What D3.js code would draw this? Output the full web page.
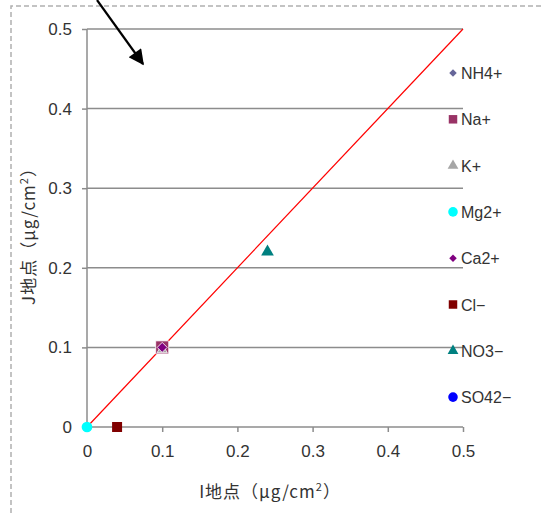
<!DOCTYPE html>
<html><head><meta charset="utf-8">
<script src="https://cdn.jsdelivr.net/npm/d3@7"></script>
<style>
html,body{margin:0;padding:0;background:#fff;}
text{font-family:"Liberation Sans","Noto Sans CJK JP",sans-serif;fill:#333;}
.ttl{font-family:"Noto Sans CJK JP",sans-serif;letter-spacing:1px;}
</style></head>
<body><svg id="c" width="541" height="513"></svg>
<script>
// Data
const seriesNames = ["NH4+","Na+","K+","Mg2+","Ca2+","Cl−","NO3−","SO42−"];
const xValues = [[0.1],[0.1],[0.1],[0],[0.1],[0.04],[0.24],[]];
const yValues = [[0.1],[0.1],[0.097],[0],[0.1],[0],[0.22],[]];
const xTicks = [0,0.1,0.2,0.3,0.4,0.5];
const yTicks = [0,0.1,0.2,0.3,0.4,0.5];
const colors = ["#666699","#993366","#a6a6a6","#00ffff","#800080","#800000","#008080","#0000ff"];
const shapes = ["diamond","square","triangle","circle","diamond","square","triangle","circle"];

const svg = d3.select("#c");
const x = d3.scaleLinear().domain([0,0.5]).range([87,463]);
const y = d3.scaleLinear().domain([0,0.5]).range([427,29]);

// dashed border
svg.append("path").attr("d","M11,513 L11,6 L541,6")
  .attr("fill","none").attr("stroke","#b0b0b0").attr("stroke-width",1.5).attr("stroke-dasharray","5,3");

// gridlines
svg.append("g").selectAll("line").data(yTicks.filter(d=>d>0)).join("line")
  .attr("x1",x(0)).attr("x2",x(0.5)).attr("y1",d=>y(d)).attr("y2",d=>y(d))
  .attr("stroke","#8c8c8c").attr("stroke-width",1.5);

// axes
const yAxis = d3.axisLeft(y).tickValues(yTicks).tickFormat(d=>d===0?"0":d3.format(".1f")(d)).tickSize(5).tickPadding(10);
const gy = svg.append("g").attr("transform",`translate(${x(0)},0)`).call(yAxis);
const xAxis = d3.axisBottom(x).tickValues(xTicks).tickFormat(d=>d===0?"0":d3.format(".1f")(d)).tickSize(5).tickPadding(13);
const gx = svg.append("g").attr("transform",`translate(0,${y(0)})`).call(xAxis);
[gx,gy].forEach(g=>{
  g.select(".domain").attr("stroke","#8c8c8c").attr("stroke-width",1.5);
  g.selectAll(".tick line").attr("stroke","#8c8c8c").attr("stroke-width",1.5);
  g.selectAll(".tick text").attr("font-size",17).attr("fill","#333")
   .style("font-family",'"Liberation Sans","Noto Sans CJK JP",sans-serif');
});
gx.select(".domain").attr("d",`M${x(0)},0H${x(0.5)}`);
gy.select(".domain").attr("d",`M0,${y(0)}V${y(0.5)}`);

// 1:1 line
svg.append("line").attr("x1",x(0)).attr("y1",y(0)).attr("x2",x(0.5)).attr("y2",y(0.5))
  .attr("stroke","#ff0000").attr("stroke-width",1.2);

function sym(shape,size){
  if(shape==="diamond") return d3.symbol().type(d3.symbolSquare).size(size)();
  const t = {square:d3.symbolSquare,triangle:d3.symbolTriangle,circle:d3.symbolCircle}[shape];
  return d3.symbol().type(t).size(size)();
}
const rot = s => s==="diamond" ? " rotate(45)" : "";
const plotSizes = [50,170,45,90,50,100,70,80];
// points
seriesNames.forEach((n,i)=>{
  xValues[i].forEach((xv,j)=>{
    svg.append("path").attr("d",sym(shapes[i],plotSizes[i]))
      .attr("transform",`translate(${x(xv)},${y(yValues[i][j])})${rot(shapes[i])}`)
      .attr("fill",colors[i]).attr("stroke",i===3||i===5||i===6?"none":"#fff").attr("stroke-width",0.8);
  });
});

// legend
const legSizes = [28,72,50,72,28,72,50,72];
seriesNames.forEach((n,i)=>{
  const ly = 73 + i*46.3;
  svg.append("path").attr("d",sym(shapes[i],legSizes[i]))
    .attr("transform",`translate(453,${ly})${rot(shapes[i])}`).attr("fill",colors[i]);
  svg.append("text").attr("x",461).attr("y",ly+6).attr("font-size",16).text(n);
});

// axis titles
const xt = svg.append("text").attr("class","ttl").attr("x",270).attr("y",498).attr("text-anchor","middle").attr("font-size",17);
xt.append("tspan").text("I地点（μg/cm");
xt.append("tspan").attr("font-size",11).attr("dy",-7).text("2");
xt.append("tspan").attr("dy",7).text("）");
const yt = svg.append("text").attr("class","ttl").attr("transform","translate(35,232) rotate(-90)").attr("text-anchor","middle").attr("font-size",17);
yt.append("tspan").text("J地点（μg/cm");
yt.append("tspan").attr("font-size",11).attr("dy",-7).text("2");
yt.append("tspan").attr("dy",7).text("）");

// arrow
svg.append("defs").append("marker").attr("id","ah").attr("viewBox","0 0 10 10")
  .attr("refX",9).attr("refY",5).attr("markerWidth",8.5).attr("markerHeight",7).attr("orient","auto")
  .attr("markerUnits","strokeWidth")
  .append("path").attr("d","M0,0 L10,5 L0,10 Z").attr("fill","#000");
svg.append("line").attr("x1",97).attr("y1",0).attr("x2",143).attr("y2",64)
  .attr("stroke","#000").attr("stroke-width",2.2).attr("marker-end","url(#ah)");
</script></body></html>
